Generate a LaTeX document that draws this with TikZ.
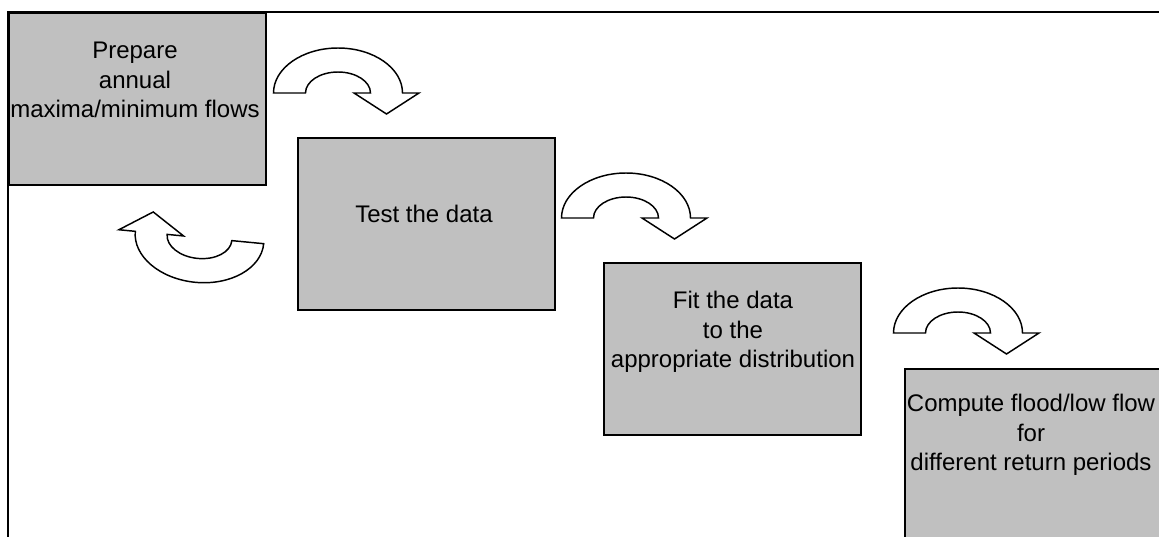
\documentclass[tikz,border=0pt]{standalone}
\usepackage{fontspec}
\setmainfont{Liberation Sans}
\usepackage{tikz}
\usepackage{color}

\definecolor{boxgray}{RGB}{192,192,192}
\tikzset{
  stepbox/.style={draw=black, line width=1.5pt, fill=boxgray, anchor=north west,
    minimum width=192.75pt, minimum height=129pt, inner sep=0pt},
  steptext/.style={align=center, inner sep=0pt, font=\fontsize{18}{22}\selectfont},
  turnline/.style={draw=black, line width=1.1pt, fill=white, line join=miter},
  turn/.pic={
    \path[turnline] (-64.5,0) arc[start angle=180, end angle=360, x radius=64.5, y radius=45]
      -- (81,0) -- (48.5,21) -- (16,0) -- (32.5,0)
      arc[start angle=0, end angle=-180, x radius=32.5, y radius=21] -- cycle;
  }
}

\begin{document}
\begin{tikzpicture}[x=0.75pt,y=-0.75pt]
\useasboundingbox (0,0) rectangle (1159,536);
\clip (0,0) rectangle (1159,536);
%frame
\draw[line width=1.5pt] (8,12) rectangle (1190,570);
%steps
\node[stepbox] (prep) at (8,12) {};
\node[stepbox] (test) at (297,137) {};
\node[stepbox] (fit) at (603,262) {};
\node[stepbox] (comp) at (904,368) {};
\node[steptext] (preptxt) at (135,80) {Prepare\\annual\\maxima/minimum flows};
\node[steptext] (testtxt) at (424,214) {Test the data};
\node[steptext] (fittxt) at (733,332) {Fit the data\\to the\\appropriate distribution};
\node[steptext] (comptxt) at (1031,435) {Compute flood/low flow\\for\\different return periods};
%turn arrows
\pic at (338,93) {turn};
\pic at (626,218) {turn};
\pic at (958,333) {turn};
\pic[rotate=174.5] at (199.5,237.5) {turn};
\end{tikzpicture}
\end{document}
